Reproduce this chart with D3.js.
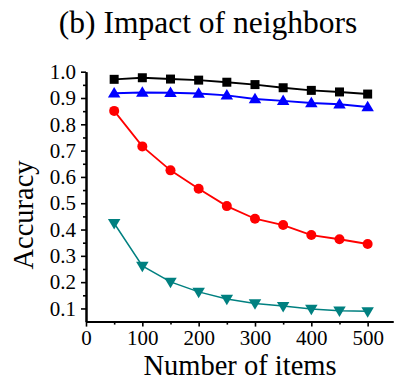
<!DOCTYPE html>
<html>
<head>
<meta charset="utf-8">
<script src="https://cdn.jsdelivr.net/npm/d3@7"></script>
<style>
  html, body { margin: 0; padding: 0; background: #fff; }
</style>
</head>
<body>
<svg id="chart" width="395" height="387"></svg>
<script>
// Number of items on the x axis
const items = [50, 100, 150, 200, 250, 300, 350, 400, 450, 500];

// Accuracy of each series
const seriesBlack = [0.971, 0.977, 0.972, 0.968, 0.960, 0.951, 0.939, 0.929, 0.923, 0.915];
const seriesBlue  = [0.918, 0.921, 0.920, 0.917, 0.910, 0.896, 0.889, 0.881, 0.876, 0.866];
const seriesRed   = [0.851, 0.716, 0.625, 0.555, 0.489, 0.441, 0.417, 0.379, 0.363, 0.345];
const seriesTeal  = [0.424, 0.262, 0.201, 0.163, 0.136, 0.119, 0.109, 0.098, 0.091, 0.089];

const xTicks = [0, 100, 200, 300, 400, 500];
const yTicks = [0.1, 0.2, 0.3, 0.4, 0.5, 0.6, 0.7, 0.8, 0.9, 1.0];

const titleText = "(b) Impact of neighbors";
const xLabel = "Number of items";
const yLabel = "Accuracy";

const SERIF = "Liberation Serif";

const svg = d3.select("#chart");

const x = d3.scaleLinear().domain([0, 545]).range([86, 393]);
const y = d3.scaleLinear().domain([0.05, 1.0]).range([321.6, 71.7]);

// Title
svg.append("text")
  .attr("x", 208).attr("y", 33)
  .attr("text-anchor", "middle")
  .style("font-family", SERIF)
  .style("font-size", "31.5px")
  .text(titleText);

// Axes: major ticks with labels, minor ticks halfway between
const xAxis = d3.axisBottom(x).tickValues(xTicks).tickSize(5).tickPadding(3).tickSizeOuter(0)
  .tickFormat(d3.format("d"));
const xMinor = d3.axisBottom(x).tickValues(d3.range(50, 550, 100)).tickSize(3).tickFormat("").tickSizeOuter(0);
const yAxis = d3.axisLeft(y).tickValues(yTicks).tickSize(5).tickPadding(5).tickSizeOuter(0)
  .tickFormat(d3.format(".1f"));
const yMinor = d3.axisLeft(y).tickValues(d3.range(0.15, 1.0, 0.1)).tickSize(3).tickFormat("").tickSizeOuter(0);

function styleAxis(g) {
  g.select(".domain").attr("stroke", "#000").attr("stroke-width", 2);
  g.selectAll(".tick line").attr("stroke", "#000").attr("stroke-width", 1.6);
  g.selectAll(".tick text")
    .style("font-family", SERIF)
    .style("font-size", "21px")
    .attr("fill", "#000");
}

svg.append("g").attr("transform", `translate(0,${y(0.05)})`).call(xMinor).call(styleAxis);
svg.append("g").attr("transform", `translate(0,${y(0.05)})`).call(xAxis).call(styleAxis);
svg.append("g").attr("transform", `translate(${x(0)},0)`).call(yMinor).call(styleAxis);
svg.append("g").attr("transform", `translate(${x(0)},0)`).call(yAxis).call(styleAxis);

// Axis labels
svg.append("text")
  .attr("x", 240).attr("y", 375)
  .attr("text-anchor", "middle")
  .style("font-family", SERIF)
  .style("font-size", "28.5px")
  .text(xLabel);

svg.append("text")
  .attr("transform", "translate(33,215) rotate(-90)")
  .attr("text-anchor", "middle")
  .style("font-family", SERIF)
  .style("font-size", "28.5px")
  .text(yLabel);

// Series lines and markers
const series = [
  { values: seriesTeal,  color: "#008080", symbol: "tdown", size: 12.5, lw: 1.5 },
  { values: seriesRed,   color: "#ff0000", symbol: d3.symbolCircle, size: 10, lw: 1.8 },
  { values: seriesBlue,  color: "#0000ff", symbol: "tup", size: 12.5, lw: 1.9 },
  { values: seriesBlack, color: "#000000", symbol: d3.symbolSquare, size: 9, lw: 1.9 }
];

const line = d3.line().x(d => x(d[0])).y(d => y(d[1]));

function markerPath(s) {
  const w = s.size;
  if (s.symbol === "tup") {
    const h = w * 0.84;
    return `M0,${-h * 0.6}L${w / 2},${h * 0.4}L${-w / 2},${h * 0.4}Z`;
  }
  if (s.symbol === "tdown") {
    const h = w * 0.84;
    return `M0,${h * 0.6}L${w / 2},${-h * 0.4}L${-w / 2},${-h * 0.4}Z`;
  }
  const area = s.symbol === d3.symbolCircle ? Math.PI * (w / 2) * (w / 2) : w * w;
  return d3.symbol().type(s.symbol).size(area)();
}

series.forEach(s => {
  const pts = items.map((v, i) => [v, s.values[i]]);
  const g = svg.append("g");
  g.append("path")
    .datum(pts)
    .attr("fill", "none")
    .attr("stroke", s.color)
    .attr("stroke-width", s.lw)
    .attr("d", line);
  g.selectAll("path.m")
    .data(pts)
    .join("path")
    .attr("class", "m")
    .attr("transform", d => `translate(${x(d[0])},${y(d[1])})`)
    .attr("d", markerPath(s))
    .attr("fill", s.color);
});
</script>
</body>
</html>
